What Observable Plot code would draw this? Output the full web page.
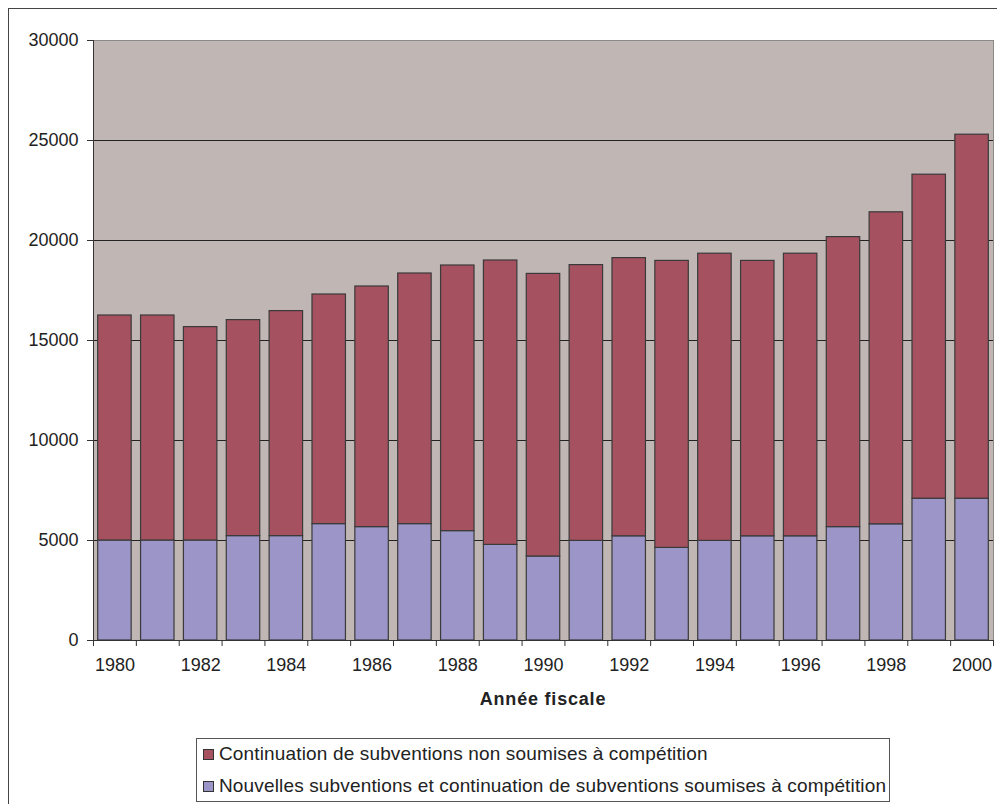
<!DOCTYPE html>
<html>
<head>
<meta charset="utf-8">
<script src="https://cdn.jsdelivr.net/npm/d3@7"></script>
<script src="https://cdn.jsdelivr.net/npm/@observablehq/plot@0.6"></script>
<style>
  body { margin: 0; background: #fff; }
  #wrap { position: relative; width: 997px; height: 804px; overflow: hidden; font-family: "Liberation Sans", Arial, sans-serif; color: #222; }
  #frame { position: absolute; left: 8px; top: 8px; width: 1200px; height: 1200px; border: 1px solid #444; box-sizing: border-box; }
  #chart { position: absolute; left: 0; top: 0; }
  #xtitle { position: absolute; left: 93px; width: 900px; top: 689px; text-align: center; font-weight: bold; font-size: 18px; letter-spacing: 0.8px; }
  #legend { position: absolute; left: 196px; top: 738px; width: 694px; height: 64px; border: 1px solid #555; box-sizing: border-box; background: #fff; }
  .row { position: absolute; left: 6px; height: 22px; display: flex; align-items: center; font-size: 19px; letter-spacing: 0.15px; white-space: nowrap; }
  .sw { width: 9px; height: 9px; border: 1px solid #333; margin-right: 5px; flex: none; }
</style>
</head>
<body>
<div id="wrap">
  <div id="frame"></div>
  <div id="chart"></div>
  <div id="xtitle"></div>
  <div id="legend"></div>
</div>
<script>
const years = [1980,1981,1982,1983,1984,1985,1986,1987,1988,1989,1990,1991,1992,1993,1994,1995,1996,1997,1998,1999,2000];
const nouvelles = [5000,5000,5000,5220,5220,5820,5670,5820,5470,4780,4200,4980,5210,4630,4980,5210,5210,5670,5810,7090,7090];
const continuation = [11250,11250,10670,10800,11250,11480,12030,12530,13280,14220,14130,13790,13910,14350,14360,13770,14130,14500,15600,16200,18200];
const seriesNames = ["Continuation de subventions non soumises à compétition", "Nouvelles subventions et continuation de subventions soumises à compétition"];
const seriesColors = ["#a5515f", "#9b95c8"];
const yTicks = [0,5000,10000,15000,20000,25000,30000];
const xLabelYears = [1980,1982,1984,1986,1988,1990,1992,1994,1996,1998,2000];
const xTitle = "Année fiscale";

const data = [];
years.forEach((y, i) => data.push({year: y, series: seriesNames[1], value: nouvelles[i]}));
years.forEach((y, i) => data.push({year: y, series: seriesNames[0], value: continuation[i]}));

const boundaries = years.map(y => y - 0.5).concat([years[years.length - 1] + 0.5]);

const chart = Plot.plot({
  width: 997,
  height: 690,
  marginLeft: 93,
  marginRight: 4,
  marginTop: 40,
  marginBottom: 50,
  style: {background: "transparent", fontFamily: "'Liberation Sans', Arial, sans-serif", fontSize: "18px", color: "#222"},
  x: {domain: [boundaries[0], boundaries[boundaries.length - 1]]},
  y: {domain: [0, 30000]},
  color: {domain: seriesNames, range: seriesColors},
  marks: [
    Plot.frame({fill: "#c0b7b5", stroke: "#8a8a8a"}),
    Plot.gridY({ticks: yTicks.slice(1, -1), stroke: "#222", strokeOpacity: 1}),
    Plot.rectY(data, {x1: d => d.year - 0.5, x2: d => d.year + 0.5, y: "value", fill: "series", stroke: "#3a3a3a", strokeWidth: 1.2, insetLeft: 4.7, insetRight: 4.7}),
    Plot.ruleX([boundaries[0]], {stroke: "#333"}),
    Plot.ruleY([0], {stroke: "#333"}),
    Plot.axisY({ticks: yTicks, tickSize: 6, tickPadding: 9, tickFormat: d => String(d), fontSize: 18, label: null, stroke: "#333"}),
    Plot.axisX({ticks: boundaries, tickSize: 6, tickFormat: () => "", label: null, stroke: "#333"}),
    Plot.axisX({ticks: xLabelYears, tickSize: 0, tickPadding: 18, tickFormat: d => String(d), fontSize: 18, label: null})
  ]
});
document.getElementById("chart").appendChild(chart);
document.getElementById("xtitle").textContent = xTitle;

const legend = document.getElementById("legend");
seriesNames.forEach((name, i) => {
  const row = document.createElement("div");
  row.className = "row";
  row.style.top = (i === 0 ? 4 : 36) + "px";
  const sw = document.createElement("span");
  sw.className = "sw";
  sw.style.background = seriesColors[i];
  const tx = document.createElement("span");
  tx.textContent = name;
  row.appendChild(sw);
  row.appendChild(tx);
  legend.appendChild(row);
});
</script>
</body>
</html>
